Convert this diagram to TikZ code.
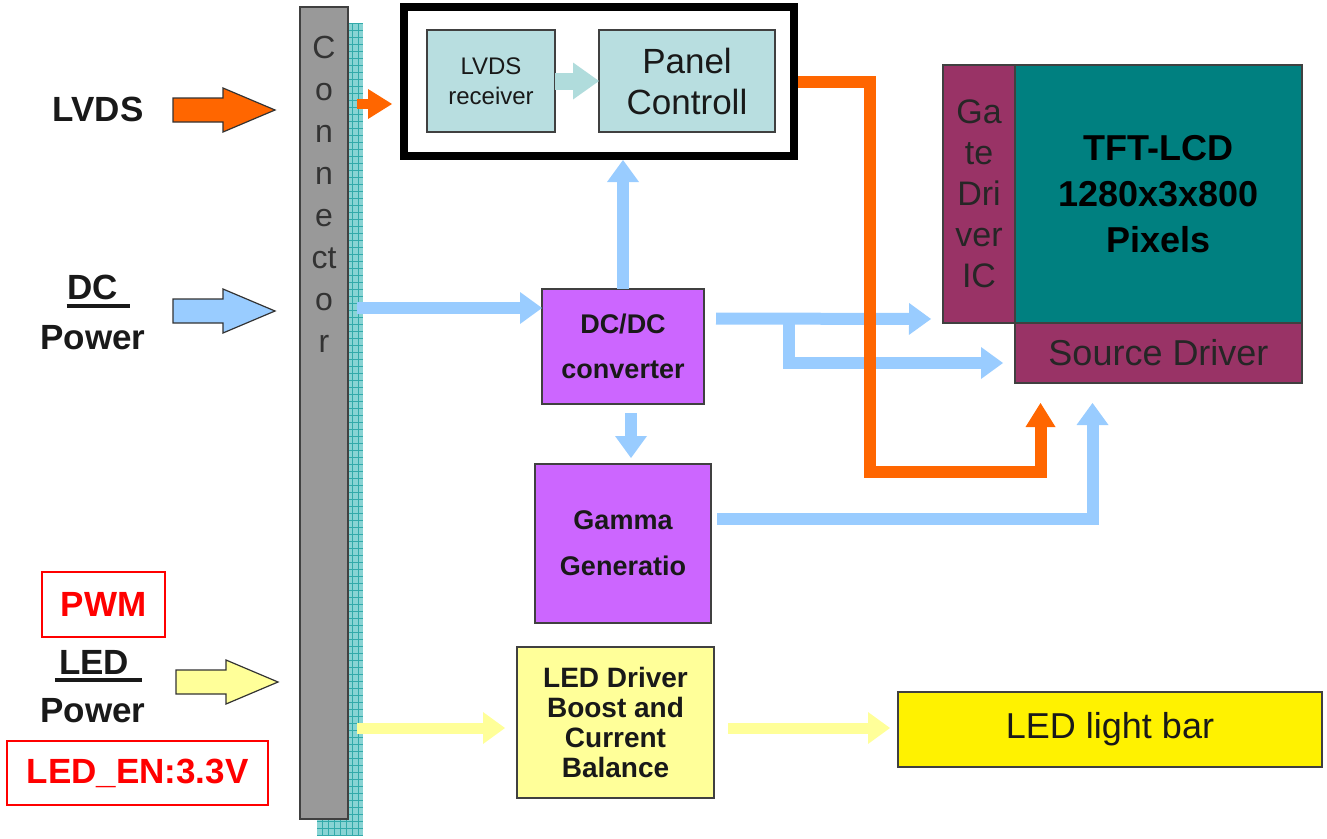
\documentclass[tikz,border=0pt]{standalone}
\usepackage{fontspec}
\setmainfont{Liberation Sans}
\usetikzlibrary{arrows.meta, positioning}

\definecolor{lvdsorange}{RGB}{255,102,0}
\definecolor{powerblue}{RGB}{153,204,255}
\definecolor{ledyellow}{RGB}{255,255,153}
\definecolor{rxfill}{RGB}{184,222,224}
\definecolor{rxarrow}{RGB}{176,220,220}
\definecolor{dcviolet}{RGB}{204,102,255}
\definecolor{drvmaroon}{RGB}{153,51,102}
\definecolor{lcdteal}{RGB}{0,128,128}
\definecolor{conngray}{RGB}{153,153,153}
\definecolor{pinteal}{RGB}{136,212,212}
\definecolor{pinline}{RGB}{50,170,170}

\tikzstyle{block} = [rectangle, draw=black!75, line width=1.2pt, inner sep=0pt, outer sep=0pt, align=center, text=black!90]
\tikzstyle{lbl} = [inner sep=0pt, font=\fontsize{35}{40}\selectfont\bfseries, text=black!90]
\tikzstyle{redbox} = [rectangle, draw=red, line width=1.5pt, inner sep=0pt, text=red, font=\fontsize{35}{40}\selectfont\bfseries]
\tikzstyle{inarrow} = [draw=black!80, line width=1.2pt]
\tikzstyle{ulline} = [line width=4pt, black!90]
\tikzstyle{blueline} = [line width=12pt, powerblue, -{Triangle[width=32pt,length=22pt,line width=0pt]}]
\tikzstyle{orangeline} = [line width=12pt, lvdsorange, -{Triangle[width=30pt,length=24pt,line width=0pt]}]
\tikzstyle{yellowline} = [line width=11pt, ledyellow, -{Triangle[width=32pt,length=22pt,line width=0pt]}]
\tikzstyle{tealline} = [line width=17pt, rxarrow, -{Triangle[width=37pt,length=26pt,line width=0pt]}]

% block arrow into the connector: colour, x, y
\newcommand{\inputarrow}[3]{%
  \draw[inarrow, fill=#1] (#2,#3) ++(0,-12) -- ++(50,0) -- ++(0,-10) -- ++(52,22)
    -- ++(-52,22) -- ++(0,-10) -- ++(-50,0) -- cycle;}

\begin{document}
\begin{tikzpicture}[x=1pt, y=-1pt]
\useasboundingbox (0,0) rectangle (1327,838);

% inputs
\node (lvdslbl) [lbl] at (98,109) {LVDS};
\node (dclbl) [lbl] at (93,287) {DC};
\node (dcpwr) [lbl] at (93,338) {Power};
\node (pwm) [redbox, minimum width=123pt, minimum height=65pt] at (103.5,604.5) {PWM};
\node (ledlbl) [lbl] at (94,662) {LED};
\node (ledpwr) [lbl] at (93,711) {Power};
\node (leden) [redbox, minimum width=261pt, minimum height=64pt] at (137.5,773) {LED\_EN:3.3V};
\draw[ulline] ([shift={(-1,6)}]dclbl.south west) -- ([shift={(12,6)}]dclbl.south east);
\draw[ulline] ([shift={(-4,6)}]ledlbl.south west) -- ([shift={(13,6)}]ledlbl.south east);
\inputarrow{lvdsorange}{173}{110}
\inputarrow{powerblue}{173}{311}
\inputarrow{ledyellow}{176}{682}

% connector
\node (strip) [rectangle, fill=pinteal, inner sep=0pt, outer sep=0pt, minimum width=46pt, minimum height=813pt,
  path picture={\draw[pinline, line width=0.7pt] (path picture bounding box.south west)
    grid[xstep=6pt, ystep=7pt] (path picture bounding box.north east);}] at (340,429.5) {};
\node (conn) [block, fill=conngray, minimum width=48pt, minimum height=812pt] at (324,413) {};
\node (conntxt) [align=center, inner sep=0pt, text=black!80, font=\fontsize{32}{42}\selectfont] at (324,194)
  {C\\o\\n\\n\\e\\ct\\o\\r};

% panel
\node (panel) [rectangle, draw=black, line width=8pt, fill=white, outer sep=0pt, minimum width=390pt, minimum height=149pt] at (599,81.5) {};
\node (recv) [block, fill=rxfill, minimum width=128pt, minimum height=102pt, font=\fontsize{24}{30}\selectfont] at (491,81) {LVDS\\receiver};
\node (ctrl) [block, fill=rxfill, minimum width=176pt, minimum height=102pt, font=\fontsize{35}{41}\selectfont, right=44pt of recv] {Panel\\Controll};

% power
\node (dcdc) [block, fill=dcviolet, minimum width=162pt, minimum height=115pt, font=\fontsize{27}{45}\selectfont\bfseries] at (623,346.5) {DC/DC\\converter};
\node (gamma) [block, fill=dcviolet, minimum width=176pt, minimum height=159pt, font=\fontsize{27}{46}\selectfont\bfseries, below=60pt of dcdc] {Gamma\\Generatio};

% lcd
\node (gate) [block, fill=drvmaroon, minimum width=72pt, minimum height=258pt, font=\fontsize{34}{41}\selectfont, text=black!85] at (979,194) {Ga\\te\\Dri\\ver\\IC};
\node (tft) [block, fill=lcdteal, minimum width=287pt, minimum height=258pt, font=\fontsize{36}{46}\selectfont\bfseries, text=black, right=0pt of gate] {TFT-LCD\\1280x3x800\\Pixels};
\node (src) [block, fill=drvmaroon, minimum width=287pt, minimum height=60pt, font=\fontsize{36}{40}\selectfont, text=black!85, below=0pt of tft] {Source Driver};

% backlight
\node (ledrv) [block, fill=ledyellow, minimum width=197pt, minimum height=151pt, font=\fontsize{28}{30}\selectfont\bfseries] at (615.5,722.5) {LED Driver\\Boost and\\Current\\Balance};
\node (ledbar) [block, fill=yellow, minimum width=424pt, minimum height=75pt, font=\fontsize{36}{40}\selectfont] at (1110,729.5) {LED light bar};

% connectors
\coordinate (lvdsport) at (357,104);
\coordinate (dcport) at (357,308);
\coordinate (ledport) at (357,728);
\coordinate (split) at (789,319);
\coordinate (gtop) at (631,404);
\coordinate (obend) at (870,472);
\coordinate (ledout) at (728,728);

\draw[tealline] (recv) -- (ctrl);
\draw[blueline] (dcport) -- (dcport -| dcdc.west);
\draw[blueline, shorten >=4pt] (dcdc) -- (dcdc |- panel.south);
\draw[blueline, shorten <=12pt, shorten >=12pt] ([shift={(0,-28)}]dcdc.east) -- (split -| gate.west);
\draw[blueline, shorten >=12pt] (split) |- ([shift={(0,10)}]src.west);
\draw[blueline, shorten <=9pt, shorten >=6pt] (gtop) -- (gtop |- gamma.north);
\draw[blueline, shorten <=6pt, shorten >=20pt] ([shift={(0,-25)}]gamma.east) -| ([shift={(-66,0)}]src.south);
\draw[orangeline, shorten <=4pt, shorten >=20pt] (panel.east) -| (obend) -| ([shift={(-118,0)}]src.south);
\draw[orangeline, line width=10pt, shorten >=12pt] (lvdsport) -- (lvdsport -| panel.west);
\draw[yellowline, shorten >=12pt] (ledport) -- (ledport -| ledrv.west);
\draw[yellowline, shorten >=8pt] (ledout) -- (ledout -| ledbar.west);
\end{tikzpicture}
\end{document}
